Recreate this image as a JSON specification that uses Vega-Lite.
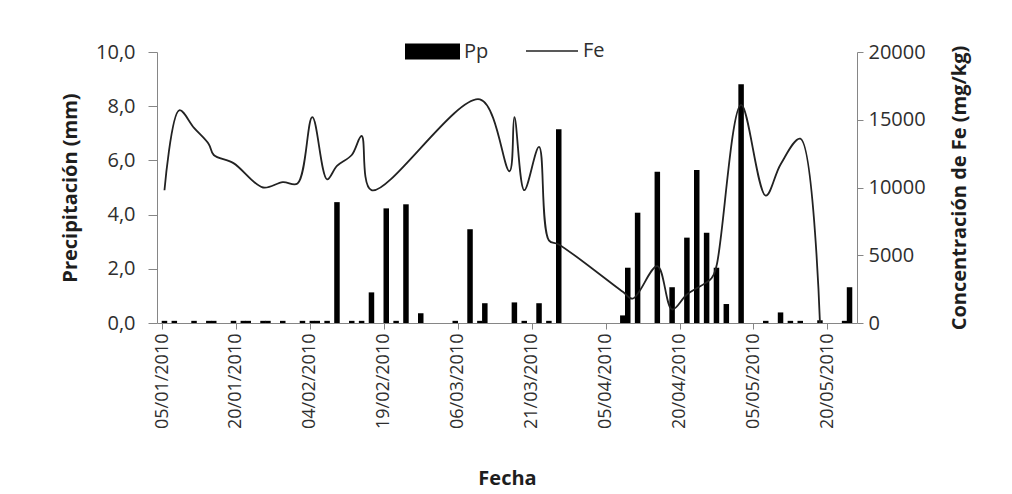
{
  "$schema": "https://vega.github.io/schema/vega-lite/v6.json",
  "width": 700,
  "height": 271,
  "autosize": {"type": "none"},
  "padding": {"left": 157, "top": 52, "right": 155, "bottom": 171},
  "background": "white",
  "config": {
    "view": {"stroke": null},
    "font": "Open Sans",
    "axis": {
      "grid": false,
      "domainColor": "#868686",
      "tickColor": "#868686",
      "labelColor": "#2e2e2e",
      "titleColor": "#1e1e1e",
      "labelFont": "Open Sans",
      "titleFont": "Open Sans",
      "labelFontSize": 18,
      "titleFontSize": 20,
      "titleFontWeight": "bold"
    }
  },
  "datasets": {
    "pp": [
      {"date": "2010-01-05T12:00:00", "pp": 0.08},
      {"date": "2010-01-07T12:00:00", "pp": 0.08},
      {"date": "2010-01-11T12:00:00", "pp": 0.08},
      {"date": "2010-01-14T12:00:00", "pp": 0.08},
      {"date": "2010-01-15T12:00:00", "pp": 0.08},
      {"date": "2010-01-19T12:00:00", "pp": 0.08},
      {"date": "2010-01-21T12:00:00", "pp": 0.08},
      {"date": "2010-01-22T12:00:00", "pp": 0.08},
      {"date": "2010-01-25T12:00:00", "pp": 0.08},
      {"date": "2010-01-26T12:00:00", "pp": 0.08},
      {"date": "2010-01-29T12:00:00", "pp": 0.08},
      {"date": "2010-02-02T12:00:00", "pp": 0.08},
      {"date": "2010-02-04T12:00:00", "pp": 0.08},
      {"date": "2010-02-05T12:00:00", "pp": 0.08},
      {"date": "2010-02-07T12:00:00", "pp": 0.08},
      {"date": "2010-02-09T12:00:00", "pp": 4.46},
      {"date": "2010-02-12T12:00:00", "pp": 0.08},
      {"date": "2010-02-14T12:00:00", "pp": 0.08},
      {"date": "2010-02-16T12:00:00", "pp": 1.13},
      {"date": "2010-02-19T12:00:00", "pp": 4.23},
      {"date": "2010-02-21T12:00:00", "pp": 0.08},
      {"date": "2010-02-23T12:00:00", "pp": 4.38},
      {"date": "2010-02-26T12:00:00", "pp": 0.36},
      {"date": "2010-03-05T12:00:00", "pp": 0.08},
      {"date": "2010-03-08T12:00:00", "pp": 3.46},
      {"date": "2010-03-10T12:00:00", "pp": 0.08},
      {"date": "2010-03-11T12:00:00", "pp": 0.73},
      {"date": "2010-03-17T12:00:00", "pp": 0.76},
      {"date": "2010-03-19T12:00:00", "pp": 0.08},
      {"date": "2010-03-22T12:00:00", "pp": 0.73},
      {"date": "2010-03-24T12:00:00", "pp": 0.08},
      {"date": "2010-03-26T12:00:00", "pp": 7.15},
      {"date": "2010-04-08T12:00:00", "pp": 0.28},
      {"date": "2010-04-09T12:00:00", "pp": 2.04},
      {"date": "2010-04-11T12:00:00", "pp": 4.07},
      {"date": "2010-04-15T12:00:00", "pp": 5.58},
      {"date": "2010-04-18T12:00:00", "pp": 1.32},
      {"date": "2010-04-21T12:00:00", "pp": 3.15},
      {"date": "2010-04-23T12:00:00", "pp": 5.65},
      {"date": "2010-04-25T12:00:00", "pp": 3.33},
      {"date": "2010-04-27T12:00:00", "pp": 2.04},
      {"date": "2010-04-29T12:00:00", "pp": 0.7},
      {"date": "2010-05-02T12:00:00", "pp": 8.81},
      {"date": "2010-05-07T12:00:00", "pp": 0.08},
      {"date": "2010-05-10T12:00:00", "pp": 0.39},
      {"date": "2010-05-12T12:00:00", "pp": 0.08},
      {"date": "2010-05-14T12:00:00", "pp": 0.08},
      {"date": "2010-05-18T12:00:00", "pp": 0.1},
      {"date": "2010-05-23T12:00:00", "pp": 0.08},
      {"date": "2010-05-24T12:00:00", "pp": 1.32}
    ],
    "fe": [
      {"date": "2010-01-05T12:00:00", "fe": 9800},
      {"date": "2010-01-08T12:00:00", "fe": 15700},
      {"date": "2010-01-11T12:00:00", "fe": 14400},
      {"date": "2010-01-14T12:00:00", "fe": 13200},
      {"date": "2010-01-15T12:00:00", "fe": 12400},
      {"date": "2010-01-19T12:00:00", "fe": 11800},
      {"date": "2010-01-25T12:00:00", "fe": 10000},
      {"date": "2010-01-29T12:00:00", "fe": 10400},
      {"date": "2010-02-01T12:00:00", "fe": 10300},
      {"date": "2010-02-04T12:00:00", "fe": 15200},
      {"date": "2010-02-07T12:00:00", "fe": 10600},
      {"date": "2010-02-09T12:00:00", "fe": 11600},
      {"date": "2010-02-12T12:00:00", "fe": 12400},
      {"date": "2010-02-14T12:00:00", "fe": 13800},
      {"date": "2010-02-16T12:00:00", "fe": 9800},
      {"date": "2010-03-10T12:00:00", "fe": 16500},
      {"date": "2010-03-16T12:00:00", "fe": 11200},
      {"date": "2010-03-17T12:00:00", "fe": 15200},
      {"date": "2010-03-19T12:00:00", "fe": 9800},
      {"date": "2010-03-22T12:00:00", "fe": 13000},
      {"date": "2010-03-24T12:00:00", "fe": 6100},
      {"date": "2010-03-26T12:00:00", "fe": 5800},
      {"date": "2010-04-08T12:00:00", "fe": 2300},
      {"date": "2010-04-10T12:00:00", "fe": 1800},
      {"date": "2010-04-15T12:00:00", "fe": 4200},
      {"date": "2010-04-18T12:00:00", "fe": 1000},
      {"date": "2010-04-21T12:00:00", "fe": 2100},
      {"date": "2010-04-26T12:00:00", "fe": 3300},
      {"date": "2010-04-27T12:00:00", "fe": 4200},
      {"date": "2010-05-02T12:00:00", "fe": 16100},
      {"date": "2010-05-07T12:00:00", "fe": 9400},
      {"date": "2010-05-10T12:00:00", "fe": 11700},
      {"date": "2010-05-14T12:00:00", "fe": 13600},
      {"date": "2010-05-18T12:00:00", "fe": 0}
    ]
  },
  "layer": [
    {
      "data": {"name": "pp"},
      "mark": {"type": "bar", "width": 5.5},
      "encoding": {
        "x": {
          "field": "date",
          "type": "temporal",
          "scale": {"domain": [{"year": 2010, "month": 1, "date": 5}, {"year": 2010, "month": 5, "date": 25}]},
          "axis": {
            "title": "Fecha",
            "values": [
              {"year": 2010, "month": 1, "date": 5},
              {"year": 2010, "month": 1, "date": 20},
              {"year": 2010, "month": 2, "date": 4},
              {"year": 2010, "month": 2, "date": 19},
              {"year": 2010, "month": 3, "date": 6},
              {"year": 2010, "month": 3, "date": 21},
              {"year": 2010, "month": 4, "date": 5},
              {"year": 2010, "month": 4, "date": 20},
              {"year": 2010, "month": 5, "date": 5},
              {"year": 2010, "month": 5, "date": 20}
            ],
            "format": "%d/%m/%Y",
            "labelAngle": -90,
            "tickSize": 6,
            "labelPadding": 4,
            "titlePadding": 40
          }
        },
        "y": {
          "field": "pp",
          "type": "quantitative",
          "scale": {"domain": [0, 10], "nice": false},
          "axis": {
            "title": "Precipitación (mm)",
            "values": [0, 2, 4, 6, 8, 10],
            "labelExpr": "replace(format(datum.value, '.1f'), '.', ',')",
            "labelFontSize": 20,
            "tickSize": 9,
            "labelPadding": 13,
            "titlePadding": 15
          }
        },
        "fill": {
          "datum": "Pp",
          "type": "nominal",
          "scale": {"range": ["#000000"]},
          "legend": {
            "orient": "none",
            "legendX": 248,
            "legendY": -28,
            "title": null,
            "symbolType": "M-1,-0.29H1V0.29H-1Z",
            "symbolSize": 3025,
            "symbolStrokeWidth": 0,
            "labelFontSize": 20,
            "labelFont": "Open Sans",
            "labelColor": "#2e2e2e",
            "labelOffset": 4
          }
        }
      }
    },
    {
      "data": {"name": "fe"},
      "mark": {"type": "line", "interpolate": "catmull-rom", "strokeWidth": 1.8},
      "encoding": {
        "x": {"field": "date", "type": "temporal"},
        "y": {
          "field": "fe",
          "type": "quantitative",
          "scale": {"domain": [0, 20000], "nice": false},
          "axis": {
            "orient": "right",
            "title": "Concentración de Fe (mg/kg)",
            "values": [0, 5000, 10000, 15000, 20000],
            "format": "d",
            "labelFontSize": 20,
            "tickSize": 6,
            "labelPadding": 5,
            "titleAngle": 270,
            "titleBaseline": "top",
            "titlePadding": 24
          }
        },
        "stroke": {
          "datum": "Fe",
          "type": "nominal",
          "scale": {"range": ["#222222"]},
          "legend": {
            "orient": "none",
            "legendX": 368,
            "legendY": -28,
            "title": null,
            "symbolType": "stroke",
            "symbolSize": 2704,
            "symbolStrokeWidth": 1.5,
            "labelFontSize": 20,
            "labelFont": "Open Sans",
            "labelColor": "#2e2e2e",
            "labelOffset": 4
          }
        }
      }
    }
  ],
  "resolve": {"scale": {"y": "independent"}}
}
